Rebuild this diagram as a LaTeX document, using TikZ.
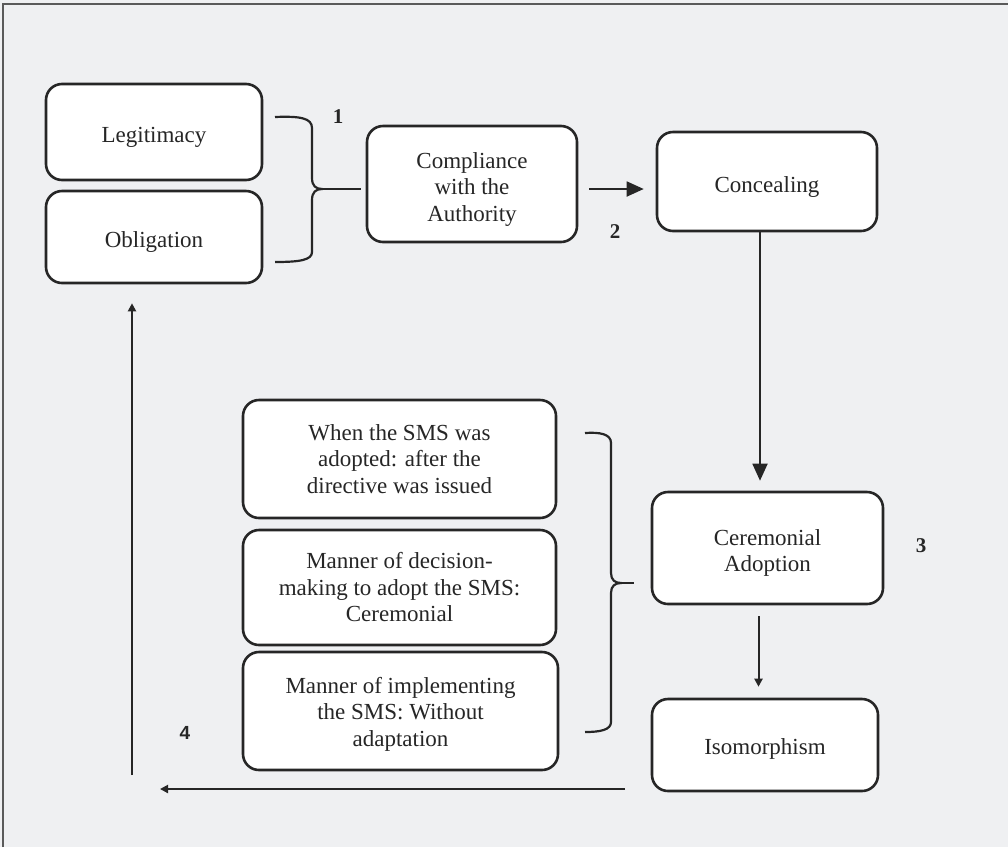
\documentclass[tikz,border=0pt]{standalone}
\usepackage{fontspec}
\setmainfont{Liberation Serif}
\setsansfont{Liberation Sans}
\usetikzlibrary{arrows.meta}
\definecolor{paper}{HTML}{EFF0F2}
\definecolor{ink}{HTML}{262626}
\definecolor{frame}{HTML}{5A5A5A}
\begin{document}
\begin{tikzpicture}[x=1pt,y=-1pt,
  box/.style={draw=ink, line width=2.6pt, rounded corners=16pt, fill=white, inner sep=0pt},
  boxtext/.style={inner sep=0pt, align=center, font=\fontsize{23}{26.5}\selectfont, text=ink},
  bigarrow/.style={draw=ink, line width=1.8pt, -{Triangle[length=17pt,width=15pt]}},
  smallarrow/.style={draw=ink, line width=2pt, -{Triangle[length=8pt,width=8pt]}},
  bracket/.style={draw=ink, line width=2.2pt},
  stepnum/.style={font=\fontsize{21}{21}\selectfont\bfseries, text=ink}]
% page and frame
\fill[paper] (0,0) rectangle (1008,847);
\useasboundingbox (0,0) rectangle (1008,847);
\draw[frame, line width=2pt] (3,847) -- (3,4) -- (1008,4);

% boxes
\node[box, minimum width=216pt, minimum height=96pt] (legit) at (154,132) {};
\node[box, minimum width=216pt, minimum height=92pt] (oblig) at (154,237) {};
\node[box, minimum width=210pt, minimum height=116pt] (comply) at (472,184) {};
\node[box, minimum width=220pt, minimum height=99pt] (conceal) at (767,181.5) {};
\node[box, minimum width=313pt, minimum height=118pt] (when) at (399.5,459) {};
\node[box, minimum width=313pt, minimum height=115pt] (manner) at (399.5,587.5) {};
\node[box, minimum width=315pt, minimum height=118pt] (implement) at (400.5,711) {};
\node[box, minimum width=231pt, minimum height=112pt] (ceremonial) at (767.5,548) {};
\node[box, minimum width=226pt, minimum height=92pt] (iso) at (765,745) {};

% box texts
\node[boxtext] (legit-t) at ([yshift=-5pt]legit.center) {Legitimacy};
\node[boxtext] (oblig-t) at ([yshift=-5pt]oblig.center) {Obligation};
\node[boxtext] (comply-t) at ([yshift=-5pt]comply.center) {Compliance\\with the\\Authority};
\node[boxtext] (conceal-t) at ([yshift=-5pt]conceal.center) {Concealing};
\node[boxtext] (when-t) at (when.center) {When the SMS was\\adopted: after the\\directive was issued};
\node[boxtext] (manner-t) at (manner.center) {Manner of decision-\\making to adopt the SMS:\\Ceremonial};
\node[boxtext] (implement-t) at ([yshift=-3pt]implement.center) {Manner of implementing\\the SMS: Without\\adaptation};
\node[boxtext] (ceremonial-t) at ([yshift=-5pt]ceremonial.center) {Ceremonial\\Adoption};
\node[boxtext] (iso-t) at ([yshift=-4pt]iso.center) {Isomorphism};

% step numbers
\node[stepnum] (n1) at (338,117) {1};
\node[stepnum] (n2) at (615,232) {2};
\node[stepnum] (n3) at (921,546) {3};
\node[stepnum, font=\sffamily\fontsize{19}{19}\selectfont\bfseries] (n4) at (185,733) {4};

% first bracket: legitimacy and obligation
\coordinate (b1tip) at (322,189);
\draw[bracket] (275,117) .. controls (300,116) and (312,118) .. (312,128) -- (312,178)
  .. controls (312,186) and (316,189) .. (b1tip)
  .. controls (316,189) and (312,192) .. (312,200) -- (312,252)
  .. controls (312,260) and (300,262) .. (275,262);
\draw[bracket] (b1tip) -- (b1tip -| comply.west) [shorten >=5pt];

% second bracket: the three SMS boxes
\coordinate (b2tip) at (621,583);
\draw[bracket] (585,433) .. controls (600,432) and (611,434) .. (611,443) -- (611,573)
  .. controls (611,580) and (615,583) .. (b2tip)
  .. controls (615,583) and (611,586) .. (611,593) -- (611,722)
  .. controls (611,730) and (600,732) .. (585,732);
\draw[bracket] (b2tip) -- (b2tip -| ceremonial.west) [shorten >=17pt];

% flow arrows
\draw[bigarrow, shorten <=11pt, shorten >=12pt] (comply.east |- b1tip) -- (conceal.west |- b1tip);
\draw[bigarrow, shorten >=10pt] ([xshift=-7pt]conceal.south) -- ([xshift=-7pt]conceal.south |- ceremonial.north);
\draw[smallarrow, shorten <=11pt, shorten >=11pt] ([xshift=-9pt]ceremonial.south) -- ([xshift=-9pt]ceremonial.south |- iso.north);

% feedback loop back to the start
\coordinate (loopstart) at (625,789);
\coordinate (loopend) at (160,789);
\coordinate (risestart) at (132,775);
\draw[smallarrow, line width=2.4pt] (loopstart) -- (loopend);
\draw[smallarrow] (risestart) -- (risestart |- oblig.south) [shorten >=19pt];
\end{tikzpicture}
\end{document}
